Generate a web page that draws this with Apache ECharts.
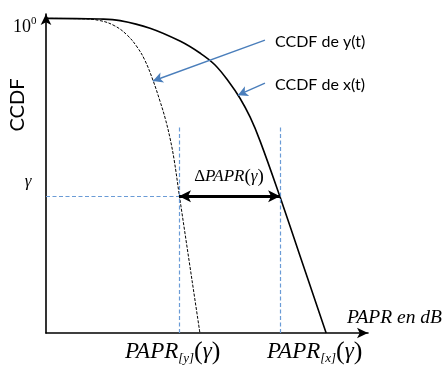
<!DOCTYPE html>
<html>
<head>
<meta charset="utf-8">
<script src="https://cdn.jsdelivr.net/npm/echarts@6/dist/echarts.min.js"></script>
<style>
  html, body { margin: 0; padding: 0; background: #fff; }
  #chart { width: 445px; height: 368px; }
</style>
</head>
<body>
<div id="chart"></div>
<script>
// x: PAPR (dB, schematic units), y: CCDF (0..1)
const ccdfX = [[0, 1], [1.68, 0.998], [2.3, 0.993], [3.23, 0.969], [4.16, 0.928], [4.78, 0.89],
  [5.25, 0.852], [5.71, 0.794], [6.02, 0.747], [6.34, 0.686], [6.65, 0.61], [7.27, 0.432],
  [7.89, 0.245], [8.7, 0]];
const ccdfY = [[0, 1], [1.06, 0.999], [1.68, 0.993], [2.14, 0.976], [2.52, 0.947], [2.83, 0.909],
  [3.07, 0.867], [3.32, 0.804], [3.54, 0.737], [3.7, 0.683], [3.85, 0.62], [3.98, 0.55],
  [4.13, 0.445], [4.78, 0]];
const gamma = 0.435;
const paprY = 4.13;
const paprX = 7.27;
const guideTop = 0.661;
const pointerY = [[6.8, 0.931], [3.32, 0.801]];
const pointerX = [[6.8, 0.794], [5.96, 0.756]];

const chart = echarts.init(document.getElementById('chart'));

const serif = '"Liberation Serif", "DejaVu Serif", serif';
const sans = 'Lato, "Open Sans", sans-serif';
const blue = '#4a7ebb';
const guideBlue = '#6a9bd6';

const axisStyle = {
  show: true,
  symbol: ['none', 'arrow'],
  symbolSize: [8, 11],
  lineStyle: { color: '#000', width: 1.6 }
};

function papr(sub) {
  return {
    type: 'text',
    style: {
      text: '{i|PAPR}{s|[' + sub + ']}{p|(}{g|γ}{p|)}',
      textVerticalAlign: 'middle',
      rich: {
        i: { fontFamily: serif, fontStyle: 'italic', fontSize: 23, lineHeight: 26, fill: '#000' },
        s: { fontFamily: serif, fontStyle: 'italic', fontSize: 13, lineHeight: 10, verticalAlign: 'bottom', fill: '#000' },
        p: { fontFamily: serif, fontSize: 26, lineHeight: 26, fill: '#000' },
        g: { fontFamily: serif, fontStyle: 'italic', fontSize: 23, lineHeight: 26, fill: '#000' }
      }
    }
  };
}

const option = {
  animation: false,
  backgroundColor: '#fff',
  grid: { left: 46, right: 77, top: 14, bottom: 35, outerBoundsMode: 'none' },
  xAxis: {
    type: 'value', min: 0, max: 10,
    axisLine: axisStyle,
    axisTick: { show: false }, axisLabel: { show: false }, splitLine: { show: false }
  },
  yAxis: {
    type: 'value', min: 0, max: 1.014,
    axisLine: axisStyle,
    axisTick: { show: false }, axisLabel: { show: false }, splitLine: { show: false }
  },
  series: [
    {
      name: 'CCDF x(t)', type: 'line', data: ccdfX, smooth: 0.4, showSymbol: false,
      lineStyle: { color: '#000', width: 1.6 }
    },
    {
      name: 'CCDF y(t)', type: 'line', data: ccdfY, smooth: 0.4, showSymbol: false,
      lineStyle: { color: '#000', width: 1, type: [3, 1.5] }
    },
    {
      name: 'guides', type: 'line', data: [],
      markLine: {
        silent: true, symbol: ['none', 'none'], label: { show: false },
        lineStyle: { color: guideBlue, width: 1.2, type: [4, 2.5] },
        data: [
          [{ coord: [0, gamma] }, { coord: [paprY, gamma] }],
          [{ coord: [paprY, 0] }, { coord: [paprY, guideTop] }],
          [{ coord: [paprX, 0] }, { coord: [paprX, guideTop] }]
        ]
      }
    },
    {
      name: 'delta', type: 'line', data: [],
      markLine: {
        silent: true, symbol: ['arrow', 'arrow'], symbolSize: [9, 12], label: { show: false },
        lineStyle: { color: '#000', width: 3, type: 'solid' },
        data: [[{ coord: [paprY, gamma] }, { coord: [paprX, gamma] }]]
      }
    },
    {
      name: 'pointers', type: 'line', data: [],
      markLine: {
        silent: true, symbol: ['none', 'arrow'], symbolSize: [8, 10], label: { show: false },
        lineStyle: { color: blue, width: 1.4, type: 'solid' },
        data: [
          [{ coord: pointerY[0] }, { coord: pointerY[1] }],
          [{ coord: pointerX[0] }, { coord: pointerX[1] }]
        ]
      }
    }
  ],
  graphic: [
    { type: 'text', x: 13, y: 27, style: { text: '10', fontFamily: serif, fontSize: 18, fill: '#000', textVerticalAlign: 'middle' } },
    { type: 'text', x: 31, y: 21, style: { text: '0', fontFamily: serif, fontSize: 11, fill: '#000', textVerticalAlign: 'middle' } },
    { type: 'text', x: 18, y: 105, rotation: Math.PI / 2,
      style: { text: 'CCDF', fontFamily: sans, fontSize: 20, fill: '#000', textAlign: 'center', textVerticalAlign: 'middle' } },
    { type: 'text', x: 28, y: 182,
      style: { text: 'γ', fontFamily: serif, fontStyle: 'italic', fontSize: 17, fill: '#000', textAlign: 'center', textVerticalAlign: 'middle' } },
    { type: 'text', x: 275, y: 42,
      style: { text: 'CCDF de y(t)', fontFamily: sans, fontSize: 16, fill: '#000', textVerticalAlign: 'middle' } },
    { type: 'text', x: 275, y: 85,
      style: { text: 'CCDF de x(t)', fontFamily: sans, fontSize: 16, fill: '#000', textVerticalAlign: 'middle' } },
    { type: 'text', x: 229, y: 177,
      style: {
        text: '{d|Δ}{i|PAPR}{p|(}{i|γ}{p|)}', textAlign: 'center', textVerticalAlign: 'middle',
        rich: {
          d: { fontFamily: serif, fontSize: 17, lineHeight: 20, fill: '#000' },
          i: { fontFamily: serif, fontStyle: 'italic', fontSize: 17, lineHeight: 20, fill: '#000' },
          p: { fontFamily: serif, fontSize: 19, lineHeight: 20, fill: '#000' }
        }
      } },
    { type: 'text', x: 347, y: 318,
      style: { text: 'PAPR en dB', fontFamily: serif, fontStyle: 'italic', fontSize: 19.5, fill: '#000', textVerticalAlign: 'middle' } },
    Object.assign(papr('y'), { x: 125, y: 352 }),
    Object.assign(papr('x'), { x: 267, y: 352 })
  ]
};

chart.setOption(option);
</script>
</body>
</html>
